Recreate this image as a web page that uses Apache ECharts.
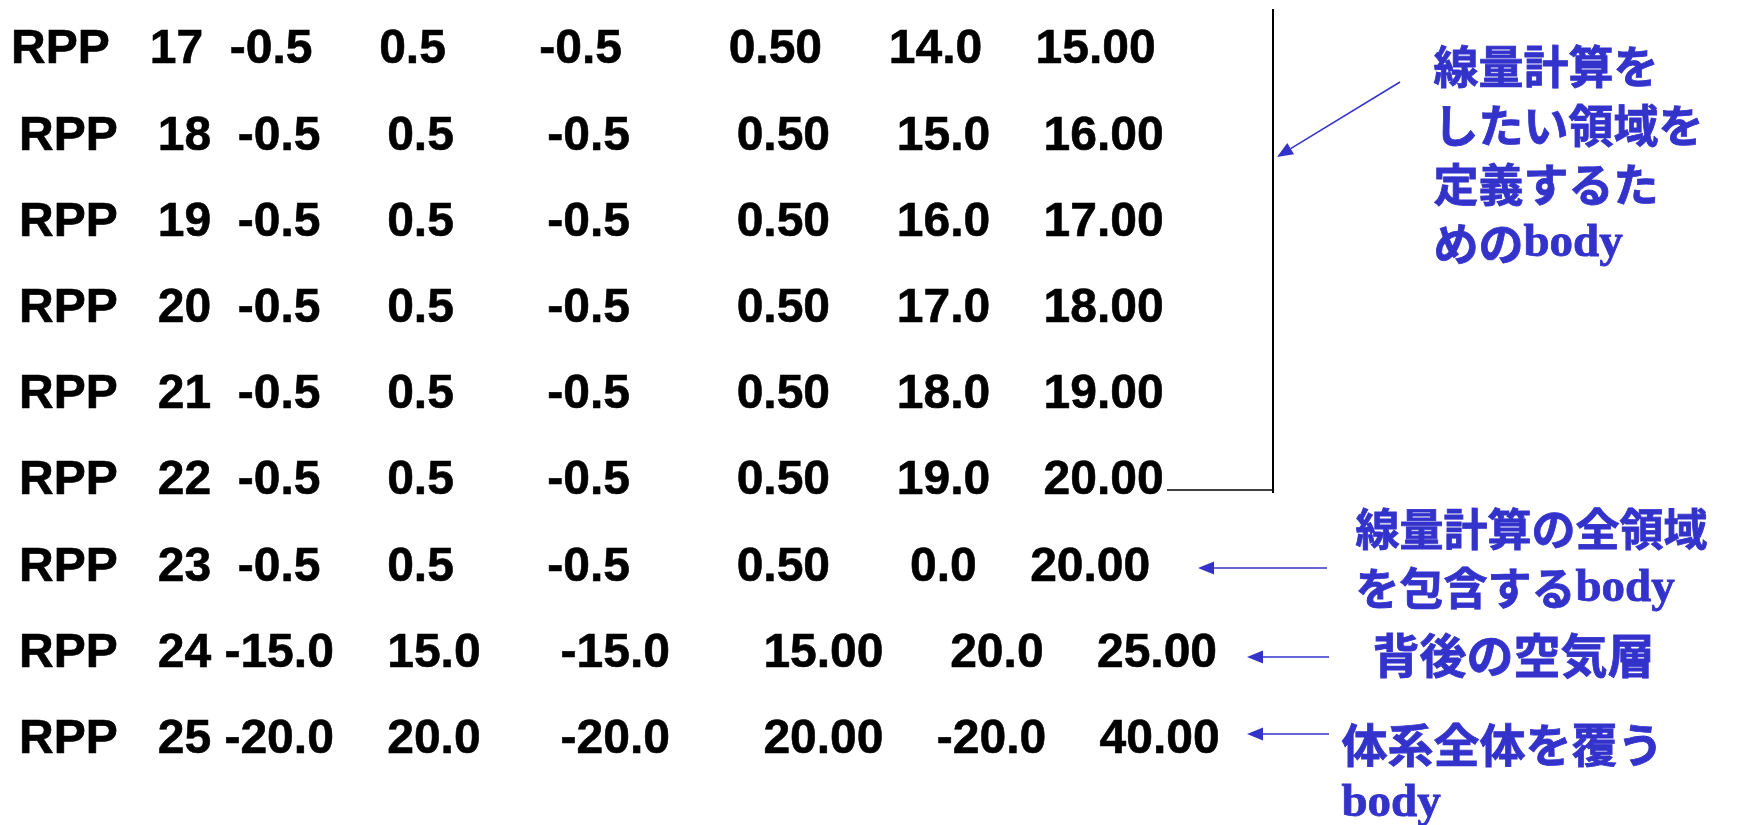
<!DOCTYPE html>
<html>
<head>
<meta charset="utf-8">
<script src="https://cdn.jsdelivr.net/npm/echarts@6/dist/echarts.min.js"></script>
<style>
html,body{margin:0;padding:0;background:#fff;}
#chart{width:1757px;height:825px;}
</style>
</head>
<body>
<div id="chart"></div>
<script>
// ---- data ----
const cardName = 'RPP';
const rowIds = [17, 18, 19, 20, 21, 22, 23, 24, 25];
const xMin = [-0.5, -0.5, -0.5, -0.5, -0.5, -0.5, -0.5, -15.0, -20.0];
const xMax = [0.5, 0.5, 0.5, 0.5, 0.5, 0.5, 0.5, 15.0, 20.0];
const yMin = [-0.5, -0.5, -0.5, -0.5, -0.5, -0.5, -0.5, -15.0, -20.0];
const yMax = [0.50, 0.50, 0.50, 0.50, 0.50, 0.50, 0.50, 15.00, 20.00];
const zMin = [14.0, 15.0, 16.0, 17.0, 18.0, 19.0, 0.0, 20.0, -20.0];
const zMax = [15.00, 16.00, 17.00, 18.00, 19.00, 20.00, 20.00, 25.00, 40.00];
const decimals = [1, 1, 1, 2, 1, 2];
const notes = [
  ['線量計算を', 'したい領域を', '定義するた', 'めの{b|body}'],
  ['線量計算の全領域', 'を包含する{b|body}'],
  ['背後の空気層'],
  ['体系全体を覆う', '{b|body}']
];

// ---- layout (spaces between columns as in the original text, row start shift) ----
const gaps = [
  [3,2,5,7,8,5,4],[3,2,5,7,8,5,4],[3,2,5,7,8,5,4],[3,2,5,7,8,5,4],
  [3,2,5,7,8,5,4],[3,2,5,7,8,5,4],[3,2,5,7,8,6,4],[3,1,4,6,7,5,4],[3,1,4,6,7,4,4]
];
const rowStart = [11, 19, 19, 19, 19, 19, 19, 19, 19];

const rowNames = rowIds.map(String);
function rowText(i) {
  const cells = [cardName, String(rowIds[i])];
  [xMin, xMax, yMin, yMax, zMin, zMax].forEach((arr, k) => cells.push(arr[i].toFixed(decimals[k])));
  let s = cells[0];
  for (let k = 1; k < cells.length; k++) s += ' '.repeat(gaps[i][k - 1]) + cells[k];
  return s;
}
const seriesData = rowIds.map((id, i) => ({value: [rowStart[i], rowNames[i]], text: rowText(i)}));

const BLUE = '#3333CC';
const jpFont = '"Noto Sans CJK JP", "Noto Sans", sans-serif';
function noteBlock(lines, x, y, size, lh) {
  return {
    type: 'text', left: x, top: y, z: 10,
    style: {
      text: lines.join('\n'),
      fill: BLUE, stroke: BLUE, lineWidth: 0.8,
      font: 'bold ' + size + 'px ' + jpFont, lineHeight: lh,
      rich: {b: {fontFamily: '"Liberation Serif", "DejaVu Serif", serif', fontWeight: 'bold', fontSize: 47, fill: BLUE, lineHeight: lh}}
    }
  };
}
function arrow(x1, y1, x2, y2) {
  const dx = x2 - x1, dy = y2 - y1, len = Math.sqrt(dx*dx + dy*dy);
  const ux = dx / len, uy = dy / len, L = 16, W = 6.5;
  const bx = x2 - ux * L, by = y2 - uy * L;
  return [
    {type: 'line', z: 10, shape: {x1: x1, y1: y1, x2: bx, y2: by}, style: {stroke: BLUE, lineWidth: 1.5}},
    {type: 'polygon', z: 10, shape: {points: [[x2, y2], [bx - uy * W, by + ux * W], [bx + uy * W, by - ux * W]]}, style: {fill: BLUE}}
  ];
}

const chart = echarts.init(document.getElementById('chart'), null, {renderer: 'canvas'});
chart.setOption({
  backgroundColor: '#ffffff',
  animation: false,
  grid: {left: 0, right: 0, top: 7, bottom: 42},
  xAxis: {type: 'value', min: 0, max: 1757, show: false},
  yAxis: {type: 'category', data: rowNames, inverse: true, show: false},
  series: [{
    type: 'scatter',
    symbolSize: 0,
    itemStyle: {opacity: 1},
    emphasis: {disabled: true},
    data: seriesData,
    label: {
      show: true, position: 'right', distance: 0, align: 'left', verticalAlign: 'middle',
      formatter: p => p.data.text, opacity: 1,
      fontFamily: '"Liberation Sans", Arial, sans-serif', fontWeight: 'bold', fontSize: 48,
      color: '#000000', textBorderColor: '#000000', textBorderWidth: 0.6
    }
  }],
  graphic: [
    {type: 'line', shape: {x1: 1273, y1: 9, x2: 1273, y2: 493}, style: {stroke: '#000', lineWidth: 2}},
    {type: 'line', shape: {x1: 1167, y1: 490, x2: 1273, y2: 490}, style: {stroke: '#000', lineWidth: 1.5}},
    noteBlock(notes[0], 1433, 37, 45, 59),
    noteBlock(notes[1], 1355, 500, 44, 59),
    noteBlock(notes[2], 1372, 626, 47, 59),
    noteBlock(notes[3], 1341, 715, 46, 59)
  ].concat(
    arrow(1400, 82, 1277, 157),
    arrow(1327, 568, 1198, 568),
    arrow(1329, 657, 1247, 657),
    arrow(1329, 734, 1247, 734)
  )
});
</script>
</body>
</html>
